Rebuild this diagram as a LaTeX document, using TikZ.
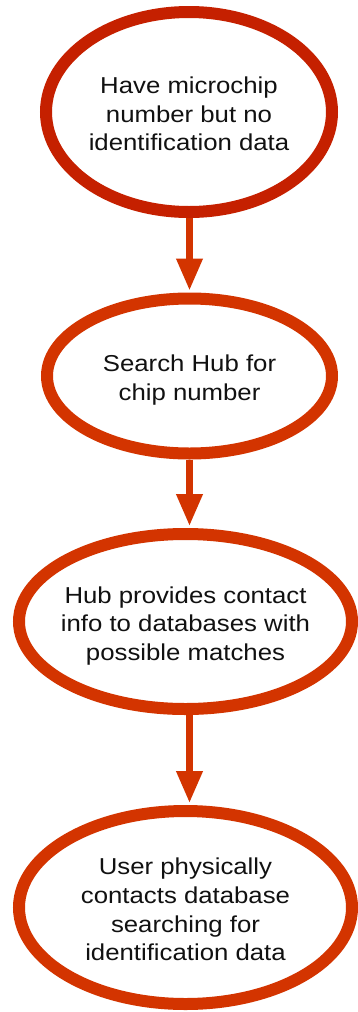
\documentclass[tikz,border=0pt]{standalone}
\usepackage{fontspec}
\setmainfont{Liberation Sans}[FakeStretch=1.12]
\usetikzlibrary{shapes.geometric,arrows.meta}

\definecolor{rimred}{RGB}{197,32,0}
\definecolor{rimorange}{RGB}{211,52,0}
\definecolor{inkblack}{RGB}{17,17,17}

\newcommand{\ovaltext}[1]{\makebox[0pt]{\raisebox{-10.75pt}[0pt][0pt]{\begin{tabular}{@{}c@{}}#1\end{tabular}}}}

\tikzset{
	oval/.style={ellipse, draw=rimorange, line width=12pt, fill=white, inner sep=0pt,
		text=inkblack, font=\fontsize{23}{28.7}\selectfont},
	flow/.style={draw=rimorange, line width=7pt, shorten >=2pt,
		-{Triangle[width=25pt,length=32pt]}}
}

\begin{document}
\begin{tikzpicture}[x=1pt,y=-1pt]
	
		\useasboundingbox (0,0) rectangle (358,1012);
	
		\node[oval, draw=rimred, minimum width=286pt, minimum height=200pt] (have) at (189,112)
			{\ovaltext{Have microchip\\number but no\\identification data}};
		\node[oval, minimum width=285pt, minimum height=155pt] (search) at (189.5,376)
			{\ovaltext{Search Hub for\\chip number}};
		\node[oval, minimum width=333pt, minimum height=175pt] (hub) at (185.5,621.5)
			{\ovaltext{Hub provides contact\\info to databases with\\possible matches}};
		\node[oval, minimum width=333pt, minimum height=193pt] (user) at (185.5,907.5)
			{\ovaltext{User physically\\contacts database\\searching for\\identification data}};
	
		\draw[flow] (have.south -| search.north) -- (search.north);
		\draw[flow] (search.south) -- (hub.north -| search.south);
		\draw[flow] (hub.south -| search.south) -- (user.north -| search.south);
	
	\end{tikzpicture}
\end{document}
